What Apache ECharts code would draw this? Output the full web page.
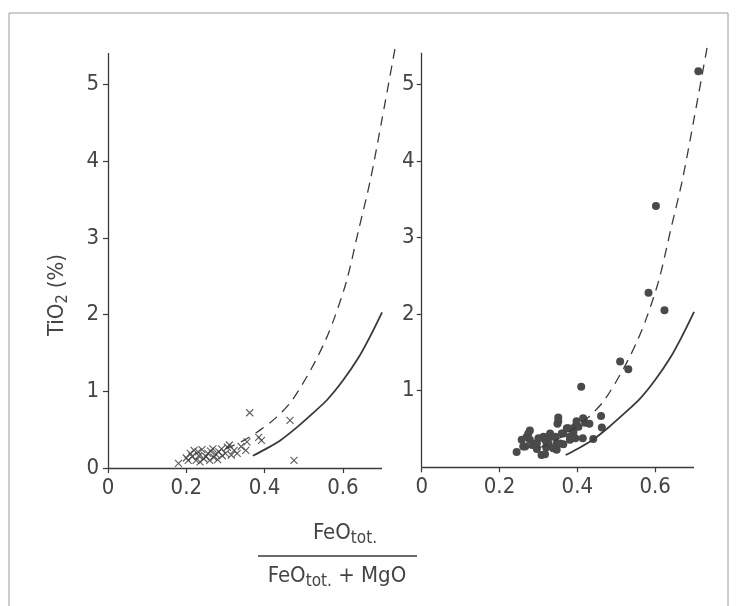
<!DOCTYPE html>
<html>
<head>
<meta charset="utf-8">
<script src="https://cdn.jsdelivr.net/npm/echarts@6/dist/echarts.min.js"></script>
<style>
html,body{margin:0;padding:0;background:#fff;}
#chart{width:736px;height:606px;}
</style>
</head>
<body>
<div id="chart"></div>
<script>
// ---- data ----
var xTicks = [0, 0.2, 0.4, 0.6];
var yTicksLeft = [0, 1, 2, 3, 4, 5];
var yTicksRight = [1, 2, 3, 4, 5];
var xAxisEnd = 0.70;   // drawn length of the x axis
var yAxisEnd = 5.41;   // drawn length of the y axis

// left panel: crosses
var crossX = [0.18,0.20,0.205,0.21,0.215,0.22,0.225,0.23,0.232,0.235,0.24,0.245,0.25,0.255,0.26,0.262,0.268,0.27,0.275,0.28,0.283,0.29,0.292,0.30,0.305,0.31,0.315,0.322,0.33,0.34,0.352,0.355,0.362,0.385,0.392,0.465,0.475];
var crossY = [0.06,0.13,0.10,0.19,0.15,0.23,0.10,0.21,0.16,0.08,0.24,0.12,0.15,0.19,0.10,0.22,0.25,0.14,0.18,0.11,0.21,0.25,0.16,0.19,0.27,0.30,0.17,0.23,0.19,0.28,0.23,0.34,0.72,0.40,0.36,0.62,0.10];

// right panel: dots
var dotX = [0.244,0.257,0.261,0.266,0.27,0.274,0.278,0.278,0.284,0.291,0.296,0.296,0.30,0.308,0.313,0.317,0.317,0.32,0.321,0.326,0.33,0.334,0.338,0.343,0.347,0.347,0.349,0.351,0.351,0.356,0.36,0.364,0.364,0.373,0.377,0.381,0.381,0.39,0.394,0.395,0.398,0.403,0.41,0.414,0.415,0.42,0.431,0.441,0.461,0.463,0.51,0.531,0.583,0.602,0.624,0.711];
var dotY = [0.20,0.36,0.27,0.27,0.40,0.44,0.36,0.48,0.29,0.31,0.24,0.31,0.38,0.16,0.40,0.17,0.36,0.26,0.29,0.31,0.44,0.40,0.25,0.40,0.23,0.31,0.57,0.60,0.65,0.31,0.44,0.30,0.44,0.51,0.51,0.36,0.40,0.46,0.53,0.38,0.60,0.53,1.05,0.38,0.64,0.58,0.57,0.37,0.67,0.52,1.38,1.28,2.28,3.41,2.05,5.17];

// reference curves (same in both panels)
var dashX = [0.30,0.34,0.39,0.43,0.47,0.52,0.555,0.58,0.61,0.64,0.67,0.70,0.735];
var dashY = [0.25,0.34,0.50,0.66,0.88,1.30,1.66,1.98,2.45,3.10,3.75,4.55,5.52];
var solidX = [0.37,0.40,0.44,0.48,0.52,0.56,0.60,0.64,0.67,0.70];
var solidY = [0.16,0.24,0.36,0.52,0.70,0.89,1.14,1.44,1.72,2.03];

function pairs(xs, ys){ return xs.map(function(x,i){ return [x, ys[i]]; }); }

var FONT = '"DejaVu Sans Condensed","DejaVu Sans",sans-serif';
var INK = '#3a3a3a';
var TXT = '#444444';

function xAxisCfg(idx){
  return {
    type:'value', gridIndex: idx, min:0, max:0.74,
    axisLine:{show:false},
    axisTick:{show:true, length:5, inside:false, customValues: xTicks, lineStyle:{color:INK, width:1.2}},
    axisLabel:{customValues: xTicks, margin:9, color:TXT, fontFamily:FONT, fontSize:22,
      formatter:function(v){ return v === 0 ? '0' : v.toFixed(1); }},
    splitLine:{show:false}
  };
}
function yAxisCfg(idx, ticks, margin){
  return {
    type:'value', gridIndex: idx, min:0, max:5.6,
    axisLine:{show:false},
    axisTick:{show:true, length:5, inside:false, customValues: ticks, lineStyle:{color:INK, width:1.2}},
    axisLabel:{customValues: ticks, margin:margin, color:TXT, fontFamily:FONT, fontSize:22},
    splitLine:{show:false}
  };
}
function axisLines(){
  return {
    symbol:'none', silent:true, animation:false,
    label:{show:false},
    lineStyle:{type:'solid', color:INK, width:1.3},
    emphasis:{disabled:true},
    data:[
      [{coord:[0,0]},{coord:[xAxisEnd,0]}],
      [{coord:[0,0]},{coord:[0,yAxisEnd]}]
    ]
  };
}

var crossPath = 'path://M0,0L10,10M10,0L0,10';

var option = {
  backgroundColor:'#ffffff',
  animation:false,
  grid:[
    {left:108, top:38.5, width:289.7, height:429.5},
    {left:421.7, top:38.3, width:287.9, height:429}
  ],
  xAxis:[xAxisCfg(0), xAxisCfg(1)],
  yAxis:[yAxisCfg(0, yTicksLeft, 9), yAxisCfg(1, yTicksRight, 7)],
  series:[
    {type:'scatter', xAxisIndex:0, yAxisIndex:0, data:pairs(crossX, crossY),
     symbol:crossPath, symbolSize:7,
     itemStyle:{color:'none', borderColor:'#3a3a3a', borderWidth:1.2},
     markLine: axisLines()},
    {type:'line', xAxisIndex:0, yAxisIndex:0, data:pairs(dashX, dashY), smooth:0.3, showSymbol:false,
     lineStyle:{color:INK, width:1.3, type:[10,7]}},
    {type:'line', xAxisIndex:0, yAxisIndex:0, data:pairs(solidX, solidY), smooth:0.3, showSymbol:false,
     lineStyle:{color:INK, width:1.8}},
    {type:'scatter', xAxisIndex:1, yAxisIndex:1, data:pairs(dotX, dotY),
     symbol:'circle', symbolSize:8,
     itemStyle:{color:'#4a4a4a', opacity:1},
     markLine: axisLines()},
    {type:'line', xAxisIndex:1, yAxisIndex:1, data:pairs(dashX, dashY), smooth:0.3, showSymbol:false,
     lineStyle:{color:INK, width:1.3, type:[10,7]}},
    {type:'line', xAxisIndex:1, yAxisIndex:1, data:pairs(solidX, solidY), smooth:0.3, showSymbol:false,
     lineStyle:{color:INK, width:1.8}}
  ],
  graphic:[
    {type:'rect', shape:{x:9, y:13, width:719, height:620}, style:{fill:'none', stroke:'#9a9a9a', lineWidth:1}, silent:true},
    {type:'text', x:57, y:295, rotation:Math.PI/2,
     style:{text:'{m|TiO}{s|2}{m| (%)}', align:'center', verticalAlign:'middle', fill:TXT,
       rich:{m:{fontFamily:FONT, fontSize:22, fill:TXT}, s:{fontFamily:FONT, fontSize:16, fill:TXT, padding:[12,0,0,0]}}}},
    {type:'text', x:345, y:533,
     style:{text:'{m|FeO}{s|tot.}', align:'center', verticalAlign:'middle', fill:TXT,
       rich:{m:{fontFamily:FONT, fontSize:22, fill:TXT}, s:{fontFamily:FONT, fontSize:17, fill:TXT, padding:[12,0,0,0]}}}},
    {type:'line', shape:{x1:258, y1:556, x2:417, y2:556}, style:{stroke:INK, lineWidth:1.3}},
    {type:'text', x:337, y:576,
     style:{text:'{m|FeO}{s|tot.}{m| + MgO}', align:'center', verticalAlign:'middle', fill:TXT,
       rich:{m:{fontFamily:FONT, fontSize:22, fill:TXT}, s:{fontFamily:FONT, fontSize:17, fill:TXT, padding:[12,0,0,0]}}}}
  ]
};

var chart = echarts.init(document.getElementById('chart'), null, {renderer:'canvas'});
chart.setOption(option);
</script>
</body>
</html>
